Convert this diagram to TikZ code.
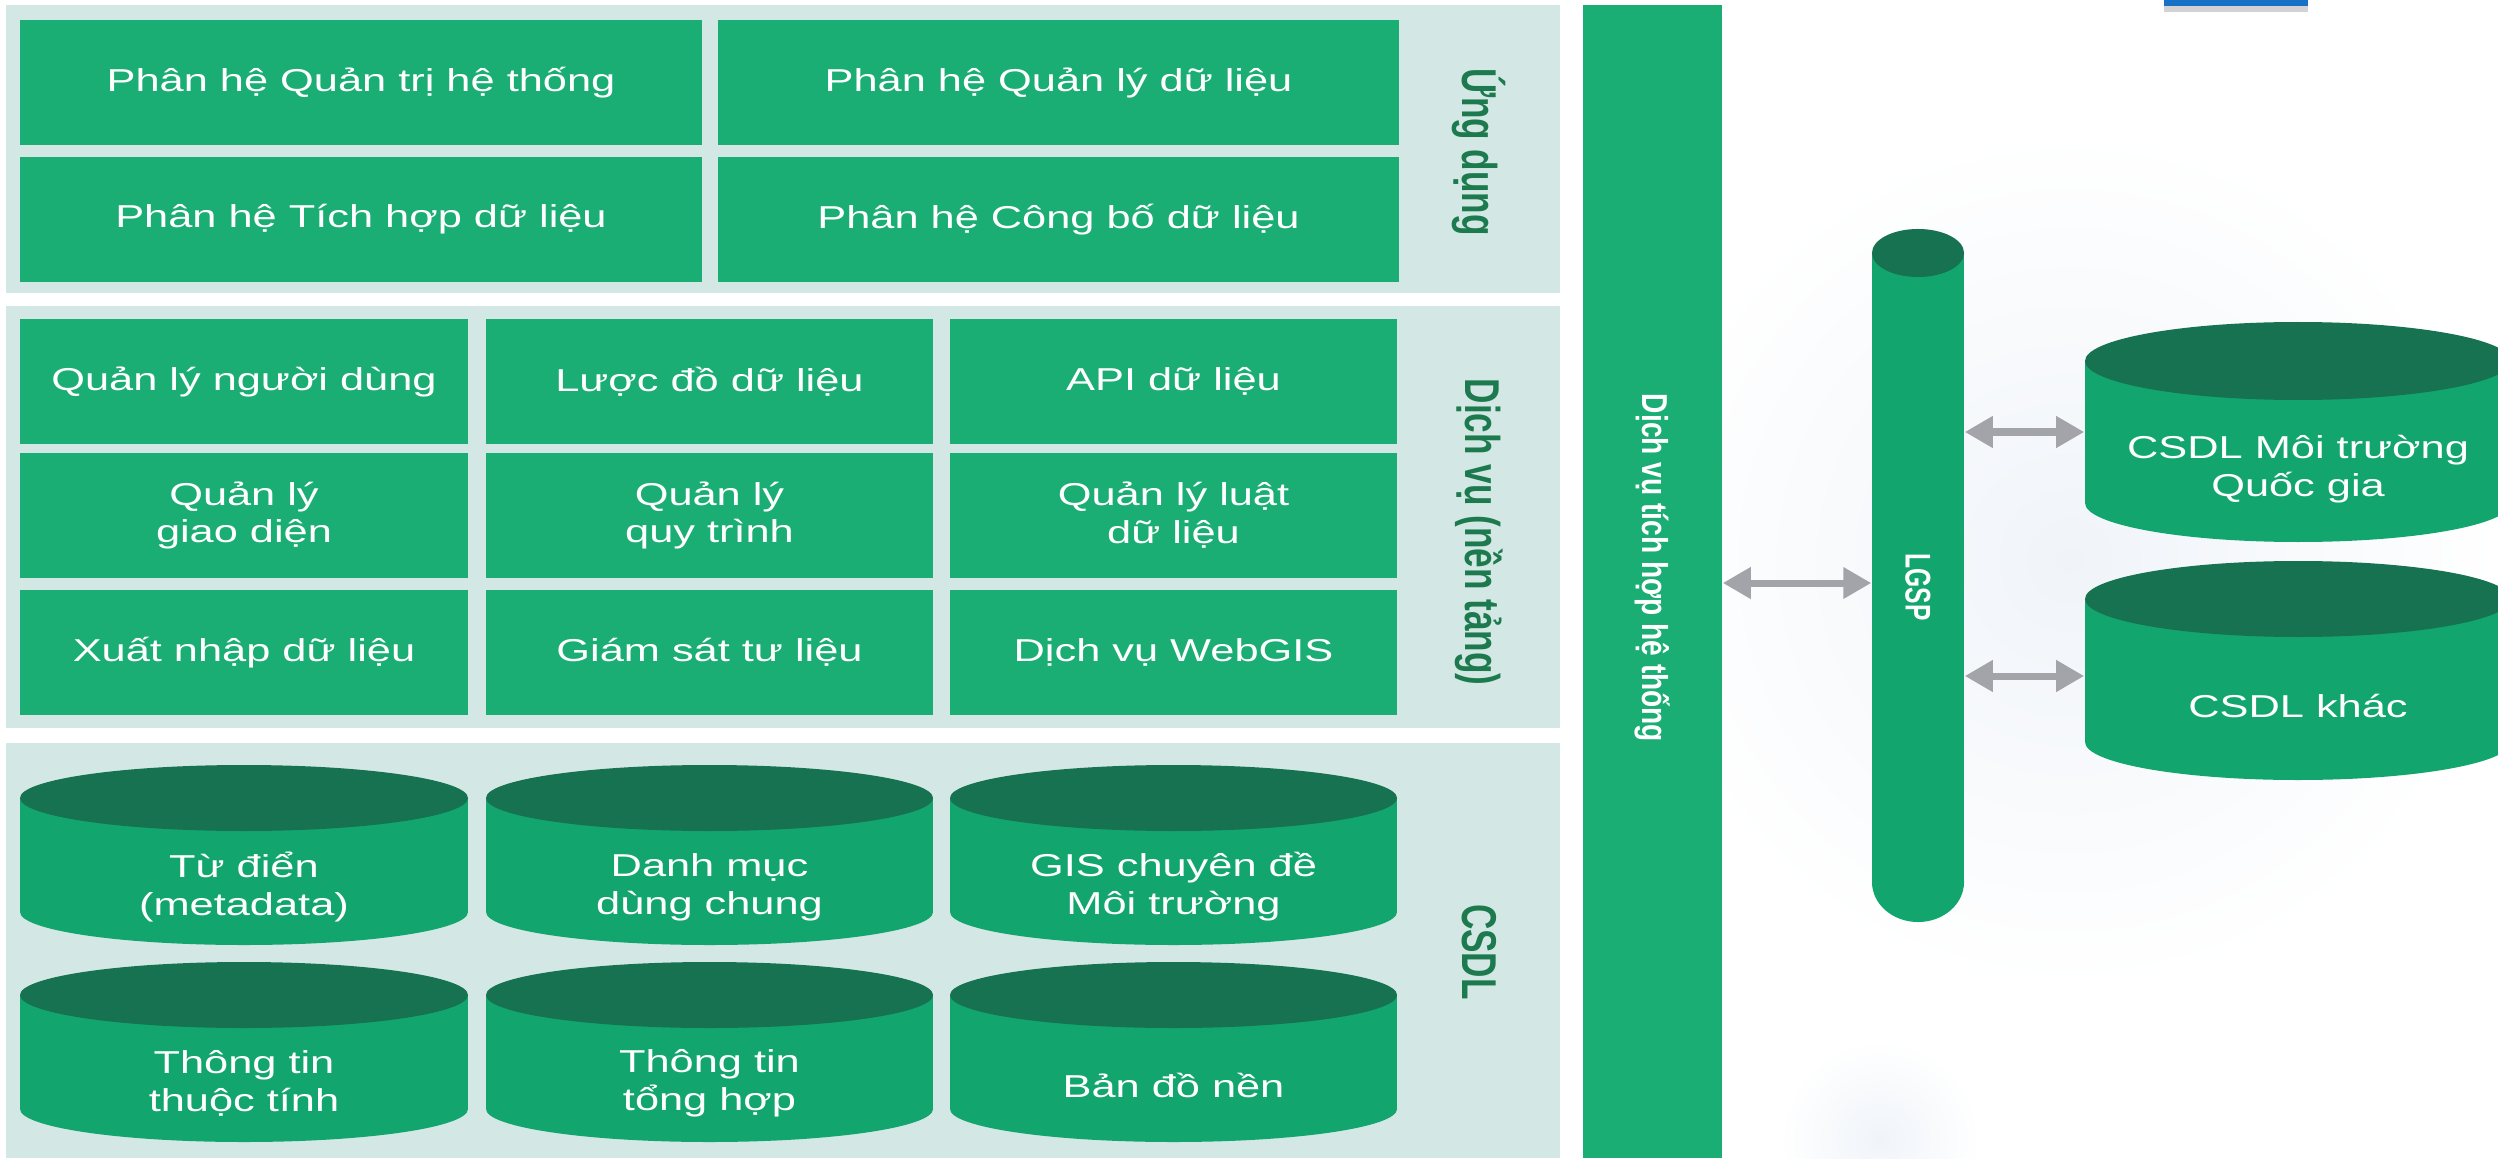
\documentclass[tikz,border=0pt]{standalone}
\usepackage{fontspec}
\setmainfont{Liberation Sans}
\newfontfamily\widefont{Liberation Sans}[FakeStretch=1.37]
\usepackage{graphicx}
\usetikzlibrary{arrows.meta,shadows}
\definecolor{panelbg}{HTML}{D3E8E5}
\definecolor{boxgreen}{HTML}{1BAE74}
\definecolor{cylbody}{HTML}{12A66E}
\definecolor{cyltop}{HTML}{167250}
\definecolor{lblgreen}{HTML}{1D7A4E}
\definecolor{arrowgray}{HTML}{A3A4AA}
\definecolor{topblue}{HTML}{1671C7}
\definecolor{glow}{HTML}{F0F4F9}
\newcommand\dbcyl[5]{%
  \fill[cylbody] (#1-#4,#2) rectangle (#1+#4,#3);
  \fill[cylbody] (#1,#3) ellipse[x radius={#4*0.01cm}, y radius={#5*0.01cm}];
  \fill[cyltop] (#1,#2) ellipse[x radius={#4*0.01cm}, y radius={#5*0.01cm}];
}
\begin{document}
\begin{tikzpicture}[x=0.01cm,y=-0.01cm,
  panel/.style={fill=panelbg, draw=none},
  box/.style={fill=boxgreen, draw=none, inner sep=0pt, text=white, align=center,
    font=\widefont\fontsize{9}{10.8}\selectfont},
  widebox/.style={box, minimum width=6.81cm, minimum height=1.25cm},
  smallbox/.style={box, minimum width=4.47cm, minimum height=1.25cm},
  cyltext/.style={inner sep=0pt, text=white, align=center, minimum width=4.47cm,
    font=\widefont\fontsize{9}{10.8}\selectfont},
  layerlabel/.style={rotate=-90, text=lblgreen, inner sep=0pt,
    font=\bfseries\fontsize{10}{12}\selectfont},
  link/.style={draw=arrowgray, line width=0.07cm,
    {Triangle[length=0.28cm,width=0.30cm]}-{Triangle[length=0.28cm,width=0.30cm]}},
]
\useasboundingbox (0,0) rectangle (2498,1158);
\fill[white] (0,0) rectangle (2498,1158);

% faint glows
\shade[inner color=glow, outer color=white] (2070,560) circle[radius=4.3cm];
\shade[inner color=glow, outer color=white] (1880,1140) circle[radius=1.0cm];

% blue bar at top
\node[fill=topblue, inner sep=0pt, minimum width=1.44cm, minimum height=0.06cm,
  drop shadow={opacity=0.35, shadow xshift=0pt, shadow yshift=-0.06cm}] (bluebar) at (2236,3) {};

% panels
\fill[panel] (6,5) rectangle (1560,293);
\fill[panel] (6,306) rectangle (1560,728);
\fill[panel] (6,743) rectangle (1560,1158);

% Ung dung
\node[widebox] (u1) at (361,82.5) {Phân hệ Quản trị hệ thống};
\node[widebox] (u2) at (1058.5,82.5) {Phân hệ Quản lý dữ liệu};
\node[widebox] (u3) at (361,219.5) {Phân hệ Tích hợp dữ liệu};
\node[widebox] (u4) at (1058.5,219.5) {Phân hệ Công bố dữ liệu};
\node[layerlabel] (l1) at (1479,152) {\scalebox{1}[1.39]{Ứng dụng}};

% Dich vu
\node[smallbox] (d1) at (244,381.5) {Quản lý người dùng};
\node[smallbox] (d2) at (709.5,381.5) {Lược đồ dữ liệu};
\node[smallbox] (d3) at (1173.5,381.5) {API dữ liệu};
\node[smallbox] (d4) at (244,515.5) {Quản lý\\giao diện};
\node[smallbox] (d5) at (709.5,515.5) {Quản lý\\quy trình};
\node[smallbox] (d6) at (1173.5,515.5) {Quản lý luật\\dữ liệu};
\node[smallbox] (d7) at (244,652.5) {Xuất nhập dữ liệu};
\node[smallbox] (d8) at (709.5,652.5) {Giám sát tư liệu};
\node[smallbox] (d9) at (1173.5,652.5) {Dịch vụ WebGIS};
\node[layerlabel] (l2) at (1479,532) {\scalebox{1}[1.39]{Dịch vụ (nền tảng)}};

% CSDL
\dbcyl{244}{798}{912}{224}{33}
\dbcyl{709.5}{798}{912}{223.5}{33}
\dbcyl{1173.5}{798}{912}{223.5}{33}
\dbcyl{244}{995}{1109}{224}{33}
\dbcyl{709.5}{995}{1109}{223.5}{33}
\dbcyl{1173.5}{995}{1109}{223.5}{33}
\node[cyltext] (c1) at (244,887) {Từ điển\\(metadata)};
\node[cyltext] (c2) at (709.5,887) {Danh mục\\dùng chung};
\node[cyltext] (c3) at (1173.5,887) {GIS chuyên đề\\Môi trường};
\node[cyltext] (c4) at (244,1083) {Thông tin\\thuộc tính};
\node[cyltext] (c5) at (709.5,1083) {Thông tin\\tổng hợp};
\node[cyltext] (c6) at (1173.5,1085) {Bản đồ nền};
\node[layerlabel] (l3) at (1479,952) {\scalebox{1}[1.39]{CSDL}};

% integration bar
\node[fill=boxgreen, inner sep=0pt, minimum width=1.39cm, minimum height=11.53cm] (bar) at (1652.5,581.5) {};
\node[rotate=-90, text=white, inner sep=0pt, font=\bfseries\fontsize{8}{9.6}\selectfont] (barlbl)
  at (1652.5,568) {\scalebox{1}[1.28]{Dịch vụ tích hợp hệ thống}};

% LGSP pipe
\fill[cylbody] (1872,253) rectangle (1964,882);
\fill[cylbody] (1918,882) ellipse[x radius=0.46cm, y radius=0.40cm];
\fill[cyltop] (1918,253) ellipse[x radius=0.46cm, y radius=0.24cm];
\node[inner sep=0pt, minimum width=0.92cm, minimum height=6.93cm] (lgsp) at (1918,575.5) {};
\node[rotate=-90, text=white, inner sep=0pt, font=\bfseries\fontsize{7}{8.4}\selectfont] (lgsplbl)
  at (1918,587) {\scalebox{1}[1.45]{LGSP}};

% external databases
\dbcyl{2298}{361}{503}{213}{39}
\dbcyl{2298}{599}{742}{213}{38}
\node[cyltext, minimum width=4.26cm] (cmt) at (2298,469) {CSDL Môi trường\\Quốc gia};
\node[cyltext, minimum width=4.26cm] (ckhac) at (2298,706) {CSDL khác};

% links
\coordinate (a1) at (0,583);
\coordinate (a2) at (0,432);
\coordinate (a3) at (0,676);
\draw[link] (bar.east |- a1) -- (lgsp.west |- a1);
\draw[link] (lgsp.east |- a2) -- (cmt.west |- a2);
\draw[link] (lgsp.east |- a3) -- (ckhac.west |- a3);
\end{tikzpicture}
\end{document}
